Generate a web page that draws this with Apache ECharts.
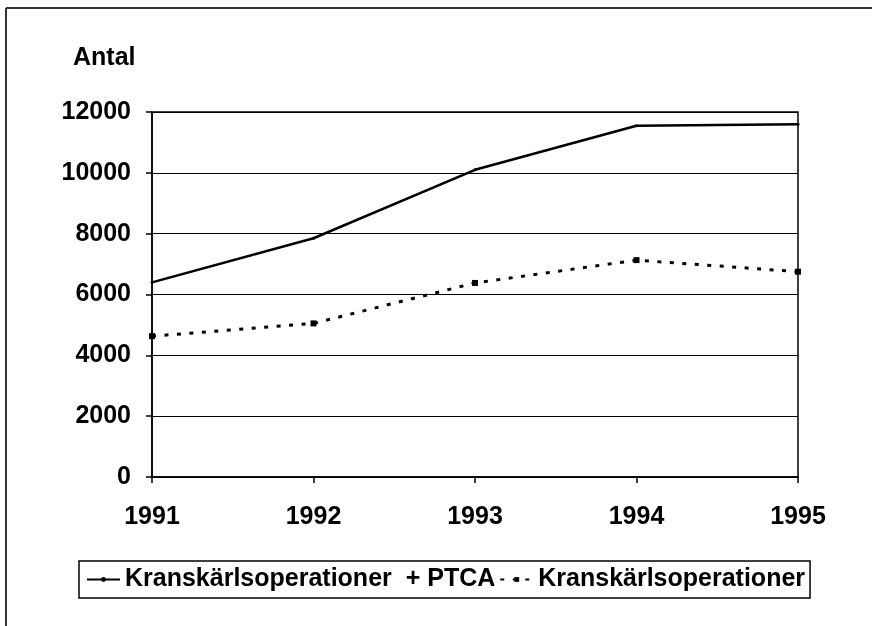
<!DOCTYPE html>
<html>
<head>
<meta charset="utf-8">
<script src="https://cdn.jsdelivr.net/npm/echarts@6/dist/echarts.min.js"></script>
<style>
  html, body { margin: 0; padding: 0; background: #fff; }
  #chart { width: 872px; height: 626px; }
</style>
</head>
<body>
<div id="chart"></div>
<script>
const years = ["1991", "1992", "1993", "1994", "1995"];
const opsPlusPtca = [6400, 7850, 10100, 11550, 11600];
const opsOnly = [4630, 5050, 6380, 7130, 6750];
const yTicks = [0, 2000, 4000, 6000, 8000, 10000, 12000];

const FONT = "Liberation Sans, Arial, sans-serif";
const labelFont = { fontFamily: FONT, fontWeight: "bold", fontSize: 25, color: "#000" };

const chart = echarts.init(document.getElementById("chart"));

const option = {
  backgroundColor: "#fff",
  animation: false,
  title: {
    text: "Antal",
    left: 68,
    top: 41,
    textStyle: labelFont,
  },
  grid: { left: 152, right: 74, top: 112, bottom: 149, containLabel: false, show: true, borderColor: "#000", borderWidth: 1.5 },
  legend: {
    left: 79,
    top: 561,
    padding: [6, 5, 6, 7],
    itemWidth: 33,
    itemHeight: 6,
    itemGap: 4,
    borderColor: "#000",
    borderWidth: 1.5,
    textStyle: labelFont,
    data: ["Kranskärlsoperationer  + PTCA", "Kranskärlsoperationer"],
  },
  xAxis: {
    type: "category",
    data: years,
    boundaryGap: false,
    axisLine: { lineStyle: { color: "#000", width: 1.5 } },
    axisTick: { show: true, length: 6, alignWithLabel: true, lineStyle: { color: "#000", width: 1.5 } },
    axisLabel: Object.assign({ margin: 28 }, labelFont),
    splitLine: { show: false },
  },
  yAxis: {
    type: "value",
    min: yTicks[0],
    max: yTicks[yTicks.length - 1],
    interval: 2000,
    axisLine: { show: true, lineStyle: { color: "#000", width: 1.5 } },
    axisTick: { show: true, length: 6, lineStyle: { color: "#000", width: 1.5 } },
    axisLabel: Object.assign({ margin: 21, formatter: (v) => String(v) }, labelFont),
    splitLine: { show: true, lineStyle: { color: "#000", width: 1.2 } },
  },
  series: [
    {
      name: "Kranskärlsoperationer  + PTCA",
      type: "line",
      data: opsPlusPtca,
      symbol: "circle",
      symbolSize: 3,
      itemStyle: { color: "#000" },
      lineStyle: { color: "#000", width: 2.5 },
    },
    {
      name: "Kranskärlsoperationer",
      type: "line",
      data: opsOnly,
      symbol: "rect",
      symbolSize: 6,
      itemStyle: { color: "#000" },
      lineStyle: { color: "#000", width: 3, type: [4, 8.5] },
    },
  ],
  graphic: [
    { type: "line", shape: { x1: 6, y1: 8, x2: 872, y2: 8 }, style: { stroke: "#333", lineWidth: 2 } },
    { type: "line", shape: { x1: 6, y1: 8, x2: 6, y2: 626 }, style: { stroke: "#333", lineWidth: 2 } },
  ],
};

chart.setOption(option);
</script>
</body>
</html>
